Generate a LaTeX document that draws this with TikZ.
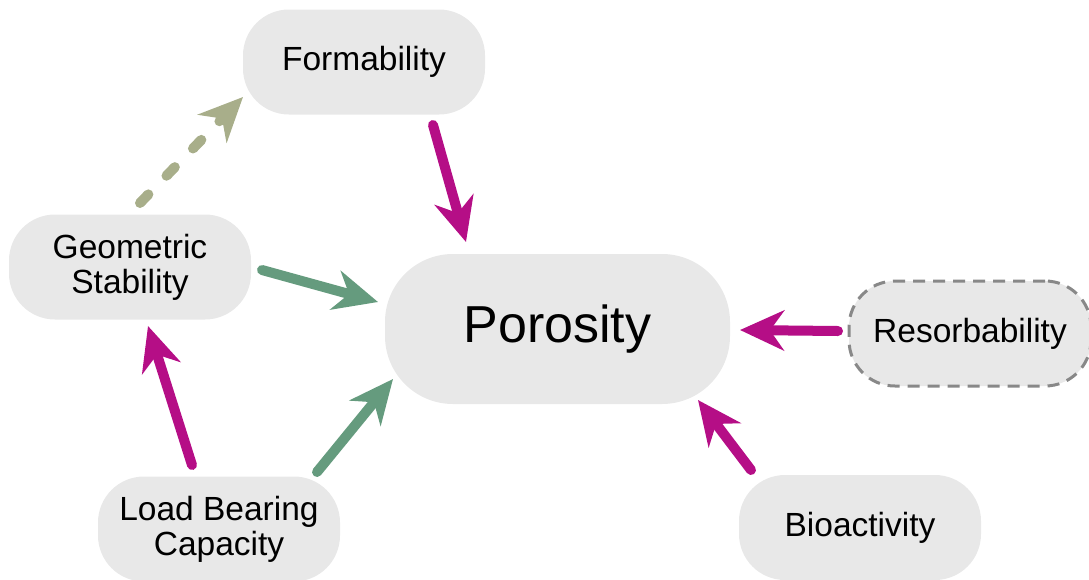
\documentclass[tikz,border=0pt]{standalone}
\usepackage{fontspec}
\setmainfont{Liberation Sans}
\usetikzlibrary{arrows.meta}
\definecolor{boxfill}{RGB}{232,232,232}
\definecolor{boxline}{RGB}{136,136,136}
\definecolor{magentaarrow}{RGB}{181,14,134}
\definecolor{greenarrow}{RGB}{101,155,126}
\definecolor{olivearrow}{RGB}{168,174,138}
\tikzset{
  factor/.style={rectangle, rounded corners=46pt, fill=boxfill, draw=none,
    minimum width=242pt, minimum height=105pt, inner sep=0pt, align=center,
    font=\fontsize{33.5}{35}\selectfont},
  hub/.style={factor, rounded corners=68pt, minimum width=345pt, minimum height=150pt,
    font=\fontsize{52}{56}\selectfont},
  dashedfactor/.style={factor, draw=boxline, line width=3pt, dash pattern=on 12pt off 8pt},
  link/.style={line width=10pt, line cap=round,
    -{Stealth[length=44pt, width=40pt, inset=14pt]}},
  promote/.style={link, draw=magentaarrow},
  support/.style={link, draw=greenarrow},
  weak/.style={link, draw=olivearrow, dash pattern=on 12pt off 26pt},
}
\begin{document}
\begin{tikzpicture}[x=1pt, y=-1pt]
  \useasboundingbox (0,0) rectangle (1089,579);

  % factor nodes
  \node[factor] (form) at (364,62) {Formability};
  \node[factor] (geo) at (130,267) {Geometric\\Stability};
  \node[hub] (por) at (557.5,329) {Porosity};
  \node[dashedfactor] (res) at (970,333.5) {Resorbability};
  \node[factor] (load) at (219,529) {Load Bearing\\Capacity};
  \node[factor] (bio) at (860,527.5) {Bioactivity};

  % connector end points, placed beside their nodes
  \coordinate (geo-up)   at (140,203);
  \coordinate (form-in)  at (243,97);
  \coordinate (form-out) at (433,125);
  \coordinate (por-top)  at (466,242);
  \coordinate (geo-out)  at (262,270);
  \coordinate (por-west) at (378,302);
  \coordinate (res-out)  at (838,331);
  \coordinate (por-east) at (740,330);
  \coordinate (bio-out)  at (751,470);
  \coordinate (por-se)   at (698,400);
  \coordinate (load-out) at (317,472);
  \coordinate (por-sw)   at (393,379);
  \coordinate (load-up)  at (192,465);
  \coordinate (geo-in)   at (148,326);

  % influences
  \draw[weak] (geo-up) -- (form-in);
  \draw[promote] (form-out) -- (por-top);
  \draw[support] (geo-out) -- (por-west);
  \draw[promote] (res-out) -- (por-east);
  \draw[promote] (bio-out) -- (por-se);
  \draw[support] (load-out) -- (por-sw);
  \draw[promote] (load-up) -- (geo-in);
\end{tikzpicture}
\end{document}
